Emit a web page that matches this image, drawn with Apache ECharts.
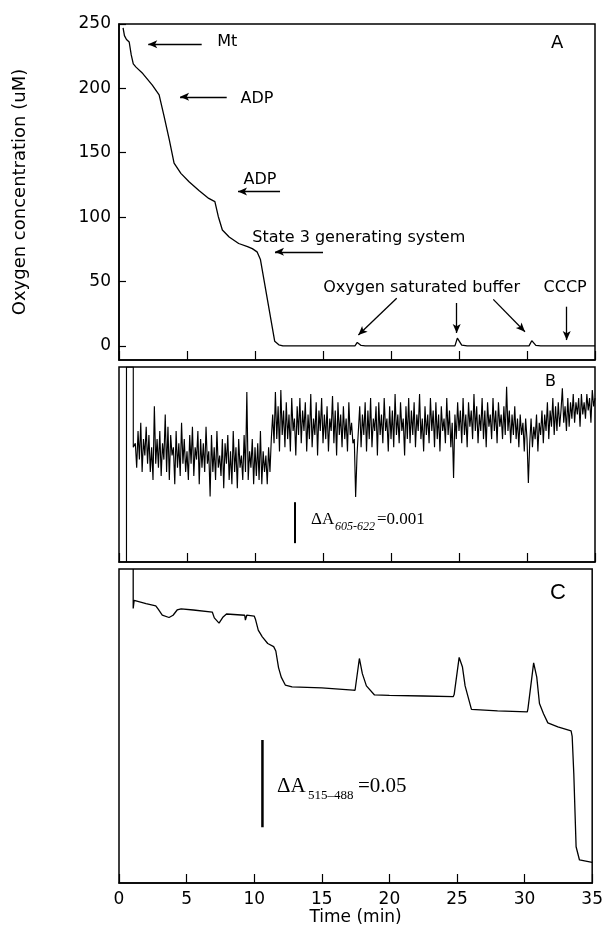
<!DOCTYPE html>
<html><head><meta charset="utf-8">
<script src="https://cdn.jsdelivr.net/npm/echarts@6/dist/echarts.min.js"></script>
<style>html,body{margin:0;padding:0;background:#fff}#c{width:606px;height:936px}</style>
</head><body><div id="c"></div>
<script>
// ---------- data ----------
const timeTickLabels = [0, 5, 10, 15, 20, 25, 30, 35];
const oxyTickLabels = [0, 50, 100, 150, 200, 250];

// Panel A: oxygen concentration (uM) vs time (min)
const aTime = [0.3, 0.4, 0.55, 0.75, 0.9, 1.05, 1.25, 1.75, 2.45, 2.95, 3.3, 3.7, 4.05, 4.55, 5.15, 5.9, 6.6, 7.05, 7.3, 7.6, 8.1, 8.8, 9.45, 9.8, 10.15, 10.4, 11.45, 11.75, 12.05, 17.35, 17.52, 17.8, 18.1, 24.7, 24.88, 25.2, 25.6, 30.15, 30.35, 30.65, 31.0, 35.0];
const aConc = [247, 241, 238, 236, 226, 219, 216.5, 211.5, 202.5, 195, 179, 160, 142, 134, 127.5, 120.5, 114.5, 112, 100.5, 90, 84.5, 79.5, 77, 75.5, 73, 67, 3.5, 0.8, 0, 0, 2.6, 0.3, 0, 0, 6, 0.6, 0, 0, 4, 0.4, 0, 0];

// Panel B: cytochrome signal (units of 0.001 dA 605-622)
const bLeadTime = [0.55, 0.55, 1.05, 1.05];
const bLeadVal = [0, 4.76, 4.76, 2.8];
const bStart = 1.2, bStep = 0.1;
const bVal = [
  2.9, 2.3, 3.2, 2.5, 3.4, 2.2, 3.0, 2.6, 3.3, 2.4,
  3.1, 2.2, 2.8, 2.0, 3.8, 2.4, 3.0, 2.3, 3.2, 2.1,
  2.9, 2.5, 3.6, 2.2, 3.3, 2.0, 3.1, 2.6, 2.8, 1.9,
  3.2, 2.3, 2.9, 2.1, 3.4, 2.4, 3.0, 2.2, 2.7, 2.0,
  3.1, 2.4, 3.3, 2.1, 2.8, 2.5, 3.2, 1.9, 3.0, 2.3,
  2.9, 2.2, 3.3, 2.4, 2.7, 1.6, 3.1, 2.2, 2.8, 2.0,
  3.2, 2.3, 2.6, 2.1, 3.0, 1.8, 2.9, 2.4, 3.1, 2.0,
  2.7, 1.9, 3.2, 2.2, 2.8, 1.8, 3.0, 2.3, 2.6, 2.0,
  3.1, 2.2, 4.15, 2.0, 2.7, 2.3, 3.0, 1.9, 2.8, 2.1,
  2.9, 2.0, 3.2, 1.9, 2.7, 2.2, 2.6, 1.9, 2.8, 2.2, 3.0,
  3.6, 2.9, 4.15, 3.0, 3.8, 2.7, 4.2, 3.1, 3.7, 2.8,
  3.9, 3.0, 3.6, 2.7, 4.0, 3.2, 3.5, 2.6, 3.8, 3.1,
  4.0, 2.9, 3.7, 3.2, 3.9, 2.7, 3.6, 3.0, 4.1, 2.8,
  3.5, 3.1, 3.9, 2.6, 3.7, 3.2, 4.0, 2.9, 3.6, 3.0,
  3.8, 2.7, 3.5, 3.2, 4.05, 2.9, 3.7, 2.6, 3.9, 3.1,
  3.6, 2.8, 3.8, 3.0, 3.5, 2.7, 3.9, 3.1, 3.4, 2.9,
  3.0, 1.59, 2.6, 3.2, 3.8, 2.8, 3.6, 3.1, 3.9, 2.7,
  3.7, 3.0, 4.0, 2.8, 3.5, 3.2, 3.8, 2.6, 3.9, 3.1,
  3.6, 2.9, 4.0, 3.2, 3.5, 2.7, 3.8, 3.0, 3.7, 2.8,
  4.1, 3.1, 3.6, 2.9, 3.9, 3.2, 3.5, 2.6, 3.8, 3.0,
  4.0, 2.9, 3.7, 3.1, 3.9, 2.8, 3.6, 3.2, 4.1, 3.0,
  3.5, 2.7, 3.8, 3.1, 3.6, 2.9, 4.0, 3.2, 3.7, 2.8,
  3.9, 3.0, 3.6, 2.7, 3.8, 3.2, 3.5, 2.9, 4.0, 3.1,
  3.7, 2.8, 3.4, 2.05, 3.6, 3.0, 3.9, 3.2, 3.7, 2.9,
  4.0, 3.1, 3.6, 2.8, 3.9, 3.3, 3.7, 3.0, 4.1, 3.2,
  3.8, 2.9, 3.6, 3.2, 4.0, 3.0, 3.7, 2.8, 3.9, 3.3,
  3.6, 3.0, 4.0, 3.2, 3.7, 2.9, 3.9, 3.3, 3.6, 3.0,
  3.8, 3.1, 4.28, 3.2, 3.7, 2.9, 3.6, 3.1, 3.8, 3.0,
  3.5, 2.8, 3.6, 3.1, 3.4, 2.7, 3.5, 3.0, 1.93, 2.9,
  3.5, 2.8, 3.3, 3.0, 3.6, 2.7, 3.4, 3.1, 3.7, 2.9,
  3.6, 3.2, 3.9, 3.0, 3.7, 3.3, 4.0, 3.1, 3.8, 3.2,
  3.9, 3.3, 3.7, 4.24, 3.4, 3.8, 3.2, 4.0, 3.3, 3.9,
  3.5, 4.1, 3.4, 3.9, 3.6, 4.0, 3.3, 4.1, 3.6, 3.9,
  3.5, 4.1, 3.7, 4.0, 3.4, 4.2, 3.8, 4.0
];
const bScaleTime = [12.94, 12.94];
const bScaleVal = [0.46, 1.46];

// Panel C: membrane potential signal (dA 515-488)
const cTime = [1.05, 1.05, 1.12, 2.0, 2.72, 2.9, 3.2, 3.7, 4.0, 4.3, 4.6, 5.5, 6.9, 7.05, 7.4, 7.7, 7.95, 9.3, 9.35, 9.45, 10.0, 10.1, 10.3, 10.6, 11.0, 11.44, 11.6, 11.8, 12.0, 12.3, 12.8, 15.0, 17.3, 17.46, 17.78, 18.0, 18.3, 18.9, 20.0, 22.5, 24.72, 24.79, 25.16, 25.4, 25.6, 26.07, 28.0, 30.2, 30.25, 30.67, 30.9, 31.1, 31.4, 31.72, 32.46, 33.44, 33.52, 33.64, 33.81, 34.06, 35.0];
const cAbs = [0.18, 0.1574, 0.162, 0.1602, 0.1589, 0.157, 0.1535, 0.1522, 0.1535, 0.1565, 0.1572, 0.1565, 0.1553, 0.152, 0.149, 0.1525, 0.1542, 0.1535, 0.1507, 0.1535, 0.153, 0.151, 0.145, 0.1411, 0.1373, 0.1355, 0.133, 0.1235, 0.118, 0.1135, 0.1124, 0.1118, 0.1106, 0.1105, 0.1287, 0.12, 0.113, 0.1078, 0.1075, 0.1072, 0.1068, 0.108, 0.1293, 0.124, 0.113, 0.0995, 0.0987, 0.0981, 0.1, 0.1262, 0.118, 0.1029, 0.097, 0.0918, 0.0895, 0.0872, 0.084, 0.0628, 0.0208, 0.0132, 0.0118];
const cScaleTime = [10.61, 10.61];
const cScaleVal = [0.032, 0.082];

// Panel A annotations (in data coordinates)
const annoText = ['Mt', 'ADP', 'ADP', 'State 3 generating system', 'Oxygen saturated buffer', 'CCCP'];
const annoTime = [7.18, 8.9, 9.12, 9.76, 14.98, 31.18];
const annoConc = [236.1, 191.9, 128.9, 83.8, 44.9, 44.9];
const arrowFromTime = [6.08, 7.92, 11.84, 15.0, 20.42, 24.83, 27.52, 32.92];
const arrowFromConc = [234.2, 193.4, 119.8, 73.0, 36.9, 33.3, 36.1, 30.4];
const arrowToTime   = [2.15, 4.49, 8.75, 11.47, 17.6, 24.83, 29.85, 32.92];
const arrowToConc   = [234.2, 193.4, 119.8, 73.0, 8.4, 10.0, 11.0, 4.5];

// ---------- chart ----------
const zip = (xs, ys) => xs.map((x, i) => [x, ys[i]]);
const bData = zip(bLeadTime, bLeadVal).concat(bVal.map((v, i) => [+(bStart + i * bStep).toFixed(2), v]));

const FONT = 'DejaVu Sans';
const black = '#000';
const gridCommon = {left: 119, right: 11, show: true, borderColor: black, borderWidth: 1.5, backgroundColor: 'transparent'};

function xAxisDef(idx, showLabels) {
  return {
    type: 'value', gridIndex: idx, min: 0, max: 35, interval: 5,
    axisLine: {show: true, onZero: false, lineStyle: {color: black, width: 1.5}},
    axisTick: {show: true, inside: true, length: 9, lineStyle: {color: black, width: 1.2}},
    splitLine: {show: false},
    axisLabel: {show: showLabels, color: black, fontFamily: FONT, fontSize: 17, margin: 8},
    name: showLabels ? 'Time (min)' : '',
    nameLocation: 'middle', nameGap: 17,
    nameTextStyle: {color: black, fontFamily: FONT, fontSize: 17}
  };
}

const chart = echarts.init(document.getElementById('c'), null, {renderer: 'canvas'});
chart.setOption({
  animation: false,
  backgroundColor: '#fff',
  grid: [
    Object.assign({top: 24, height: 336}, gridCommon),
    Object.assign({top: 367, height: 195}, gridCommon),
    Object.assign({top: 569, height: 314}, gridCommon)
  ],
  xAxis: [xAxisDef(0, false), xAxisDef(1, false), xAxisDef(2, true)],
  yAxis: [
    {
      type: 'value', gridIndex: 0, min: -11, max: 250,
      axisLine: {show: true, lineStyle: {color: black, width: 1.5}},
      axisTick: {show: true, inside: true, length: 7, customValues: oxyTickLabels, lineStyle: {color: black, width: 1.2}},
      axisLabel: {show: true, customValues: oxyTickLabels, color: black, fontFamily: FONT, fontSize: 17, margin: 8},
      splitLine: {show: false},
      name: 'Oxygen concentration (uM)', nameLocation: 'middle', nameRotate: 90, nameGap: 90,
      nameTextStyle: {color: black, fontFamily: FONT, fontSize: 18}
    },
    {type: 'value', gridIndex: 1, min: 0, max: 4.76, axisLine: {show: false}, axisTick: {show: false}, axisLabel: {show: false}, splitLine: {show: false}},
    {type: 'value', gridIndex: 2, min: 0, max: 0.18, axisLine: {show: false}, axisTick: {show: false}, axisLabel: {show: false}, splitLine: {show: false}}
  ],
  series: [
    {
      type: 'line', xAxisIndex: 0, yAxisIndex: 0, data: zip(aTime, aConc),
      showSymbol: false, smooth: false, lineStyle: {color: black, width: 1.3}, silent: true,
      markLine: {
        silent: true, symbol: ['none', 'arrow'], symbolSize: [6, 9], precision: 3,
        label: {show: false},
        lineStyle: {color: black, width: 1.3, type: 'solid'},
        data: arrowFromTime.map((t, i) => [
          {coord: [t, arrowFromConc[i]]},
          {coord: [arrowToTime[i], arrowToConc[i]]}
        ])
      }
    },
    {
      type: 'scatter', xAxisIndex: 0, yAxisIndex: 0, symbolSize: 1, silent: true,
      itemStyle: {color: '#fff', opacity: 1},
      data: annoTime.map((t, i) => [t, annoConc[i], annoText[i]]),
      label: {show: true, position: 'right', distance: 0, formatter: p => p.data[2],
        color: black, opacity: 1, fontFamily: FONT, fontSize: 16}
    },
    {
      type: 'line', xAxisIndex: 1, yAxisIndex: 1, data: bData,
      showSymbol: false, lineStyle: {color: black, width: 1.15}, silent: true
    },
    {
      type: 'line', xAxisIndex: 1, yAxisIndex: 1, data: zip(bScaleTime, bScaleVal),
      showSymbol: false, lineStyle: {color: black, width: 2}, silent: true
    },
    {
      type: 'line', xAxisIndex: 2, yAxisIndex: 2, data: zip(cTime, cAbs),
      showSymbol: false, lineStyle: {color: black, width: 1.3}, silent: true
    },
    {
      type: 'line', xAxisIndex: 2, yAxisIndex: 2, data: zip(cScaleTime, cScaleVal),
      showSymbol: false, lineStyle: {color: black, width: 2.5}, silent: true
    }
  ],
  graphic: [
    {type: 'text', left: 551, top: 34, style: {text: 'A', fill: black, font: '18px "DejaVu Sans"'}},
    {type: 'text', left: 545, top: 374, style: {text: 'B', fill: black, font: '16px "DejaVu Sans"'}},
    {type: 'text', left: 550, top: 582, style: {text: 'C', fill: black, font: '22px "Liberation Sans"'}},
    {type: 'text', left: 311, top: 511, style: {text: 'ΔA', fill: black, font: '17px "Liberation Serif"'}},
    {type: 'text', left: 335, top: 521, style: {text: '605-622', fill: black, font: 'italic 12px "Liberation Serif"'}},
    {type: 'text', left: 377, top: 511, style: {text: '=0.001', fill: black, font: '17px "Liberation Serif"'}},
    {type: 'text', left: 277, top: 776, style: {text: 'ΔA', fill: black, font: '21px "Liberation Serif"'}},
    {type: 'text', left: 308, top: 789, style: {text: '515–488', fill: black, font: '13px "Liberation Serif"'}},
    {type: 'text', left: 358, top: 776, style: {text: '=0.05', fill: black, font: '21px "Liberation Serif"'}}
  ]
});
</script>
</body></html>
